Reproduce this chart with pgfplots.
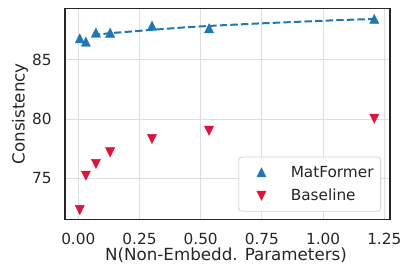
\documentclass[border=0pt]{standalone}
\usepackage{pgfplots}
\pgfplotsset{compat=1.18}
\usepackage{fontspec}
\setmainfont{DejaVu Sans}
\definecolor{mblue}{RGB}{31,119,180}
\definecolor{mred}{RGB}{220,20,60}
\definecolor{gridc}{RGB}{222,222,222}
\definecolor{framec}{RGB}{38,38,38}
\definecolor{legedge}{RGB}{212,212,212}
\pgfdeclareplotmark{tup}{%
  \pgfpathmoveto{\pgfqpoint{0pt}{\pgfplotmarksize}}%
  \pgfpathlineto{\pgfqpoint{-\pgfplotmarksize}{-\pgfplotmarksize}}%
  \pgfpathlineto{\pgfqpoint{\pgfplotmarksize}{-\pgfplotmarksize}}%
  \pgfpathclose\pgfusepathqfillstroke}
\pgfdeclareplotmark{tdown}{%
  \pgfpathmoveto{\pgfqpoint{0pt}{-\pgfplotmarksize}}%
  \pgfpathlineto{\pgfqpoint{-\pgfplotmarksize}{\pgfplotmarksize}}%
  \pgfpathlineto{\pgfqpoint{\pgfplotmarksize}{\pgfplotmarksize}}%
  \pgfpathclose\pgfusepathqfillstroke}
\pgfplotsset{
  mylegimg/.style={legend image code/.code={%
    \path[draw=none,fill=none] (-15.7bp,-5bp) rectangle (10bp,5bp);
    \draw[##1, sharp corners] plot coordinates {(0bp,0bp)};}},
}
\begin{document}
\begin{tikzpicture}
\useasboundingbox (0,0) rectangle (404bp,270bp);
\begin{axis}[
  at={(65bp,50.7bp)}, anchor=south west,
  scale only axis, width=325bp, height=211bp,
  xmin=-0.0543, xmax=1.2733, ymin=71.53, ymax=89.37,
  xtick={0,0.25,0.5,0.75,1,1.25},
  xticklabels={0.00,0.25,0.50,0.75,1.00,1.25},
  ytick={75,80,85},
  /pgf/number format/assume math mode=true,
  grid=major,
  major grid style={color=gridc, line width=1bp},
  axis line style={color=framec, line width=1.25bp},
  tick style={draw=none},
  ticklabel style={font=\fontsize{15.3bp}{18bp}\selectfont, text=framec},
  yticklabel style={anchor=east, inner sep=0pt, xshift=-13.3bp},
  xticklabel style={anchor=north, inner sep=0pt, yshift=-14bp},
  xlabel={N(Non-Embedd. Parameters)},
  ylabel={Consistency},
  label style={font=\fontsize{16.7bp}{20bp}\selectfont, text=framec},
  xlabel style={at={(axis description cs:0.5,0)}, anchor=north, inner sep=0pt, yshift=-28.2bp, xshift=-1.5bp},
  ylabel style={at={(axis description cs:0,0.5)}, anchor=center, inner sep=0pt, yshift=45bp},
  legend cell align=left,
  legend style={at={(1,0)}, anchor=south east, xshift=-9bp, yshift=7.6bp,
    draw=legedge, line width=0.8bp, rounded corners=3bp, fill=white,
    inner xsep=7bp, inner ysep=9bp, row sep=10.5bp,
    font=\fontsize{15.3bp}{18bp}\selectfont, text=framec,
    nodes={inner sep=0pt},
    /tikz/column 1/.style={column sep=19.3bp}},
]
\addplot[mblue, dashed, line width=2bp, dash pattern=on 7.4bp off 3.2bp, forget plot] coordinates {
  (0.06,87.1) (0.13,87.27) (0.2,87.38) (0.3,87.55) (0.45,87.78) (0.6,87.95)
  (0.75,88.10) (0.9,88.23) (1.05,88.36) (1.209,88.47)};
\addplot[only marks, mark=tup, mark size=4.6bp, color=mblue, fill=mblue, line width=0.4bp, mylegimg] coordinates {
  (0.006,86.83) (0.031,86.55) (0.072,87.31) (0.13,87.30) (0.301,87.90) (0.534,87.68) (1.209,88.47)};
\addlegendentry{MatFormer}
\addplot[only marks, mark=tdown, mark size=4.6bp, color=mred, fill=mred, line width=0.4bp, mylegimg] coordinates {
  (0.006,72.32) (0.031,75.22) (0.072,76.21) (0.13,77.20) (0.301,78.32) (0.534,79.02) (1.209,80.04)};
\addlegendentry{Baseline}
\node[anchor=north east, inner sep=0pt, font=\fontsize{15.3bp}{18bp}\selectfont, text=framec] at (rel axis cs:1,0) [yshift=-35bp] {1e9};
\end{axis}
\end{tikzpicture}
\end{document}
